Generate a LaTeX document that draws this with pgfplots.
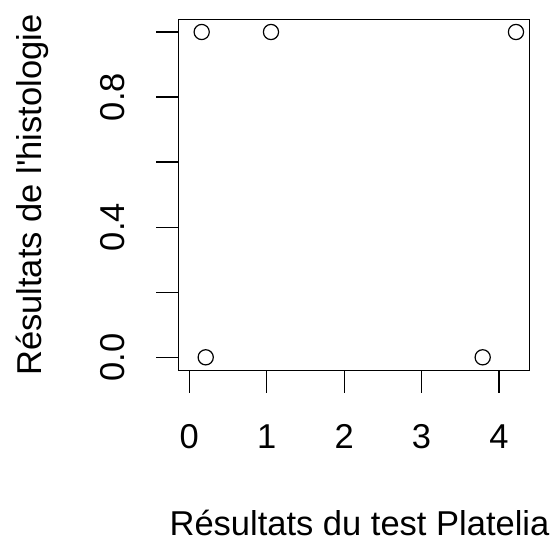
\documentclass[border=0pt]{standalone}
\usepackage{pgfplots}
\pgfplotsset{compat=1.18}
\usepackage{fontspec}
\setmainfont{Liberation Sans}
\begin{document}
\begin{tikzpicture}[x=1pt,y=1pt]
\path[use as bounding box] (0,0) rectangle (555,-542);
\begin{axis}[
  at={(178.3pt,-370.7pt)}, anchor=south west,
  scale only axis, width=351pt, height=351.2pt,
  xmin=-0.142, xmax=4.391, ymin=-0.0412, ymax=1.0384,
  axis line style={line width=1.3pt, black},
  tick style={line width=1.3pt, black},
  tick align=outside, major tick length=22pt,
  xtick pos=lower, ytick pos=left,
  xtick={0,1,2,3,4}, xticklabels={0,1,2,3,4},
  ytick={0,0.2,0.4,0.6,0.8,1}, yticklabels={0.0,{},0.4,{},0.8,{}},
  font=\fontsize{34.5}{40}\selectfont,
  xticklabel style={anchor=base, yshift=-55.3pt},
  yticklabel style={xshift=-31.3pt, rotate=90, anchor=base},
  xlabel={Résultats du test Platelia},
  ylabel={Résultats de l\textquotesingle histologie},
  every axis x label/.style={at={(rel axis cs:0.5,0)}, xshift=5.7pt, yshift=-164.3pt, anchor=base},
  every axis y label/.style={at={(rel axis cs:0,0.5)}, xshift=-136.3pt, rotate=90, anchor=base},
  clip=false,
]
\addplot[only marks, mark=o, mark size=7.6pt, mark options={line width=1.2pt, black}]
  coordinates {(0.16,1) (1.055,1) (4.219,1) (0.212,0) (3.789,0)};
\end{axis}
\end{tikzpicture}
\end{document}
